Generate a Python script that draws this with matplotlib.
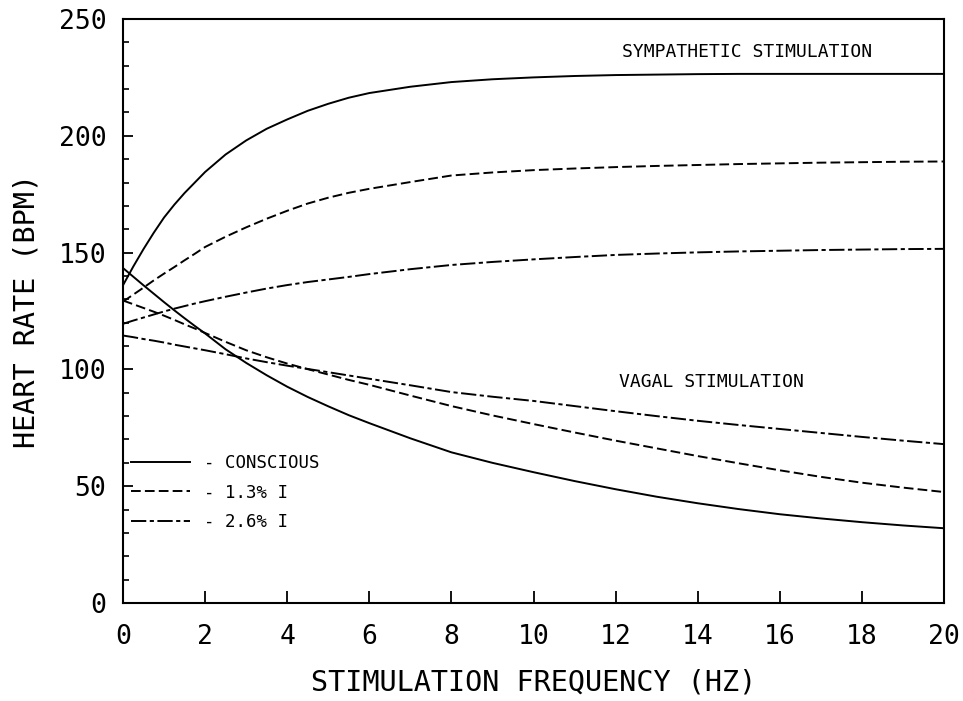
import numpy as np
import matplotlib
matplotlib.use("Agg")
import matplotlib.pyplot as plt

plt.rcParams['font.family'] = ['DejaVu Sans Mono', 'DejaVu Sans']
plt.rcParams['lines.scale_dashes'] = False

# values (Hz, beats per minute)
freq = [0, 0.25, 0.5, 0.75, 1, 1.25, 1.5, 1.75, 2, 2.5, 3, 3.5, 4, 4.5, 5, 5.5,
        6, 7, 8, 9, 10, 11, 12, 13, 14, 15, 16, 17, 18, 19, 20]

symp_conscious = [136, 144, 151.5, 158.5, 165, 170.5, 175.5, 180, 184.5, 192, 198,
                  203, 207, 210.7, 213.7, 216.3, 218.3, 221, 223, 224.2, 225,
                  225.6, 226, 226.2, 226.4, 226.5, 226.5, 226.5, 226.5, 226.5, 226.5]
symp_13 = [129, 132, 135, 138.1, 141, 143.8, 146.7, 149.5, 152.4, 156.8, 160.8,
           164.5, 167.9, 171, 173.5, 175.6, 177.3, 180.2, 183, 184.3, 185.3, 186,
           186.6, 187.1, 187.5, 187.9, 188.2, 188.5, 188.7, 188.9, 189]
symp_26 = [119.5, 120.9, 122.2, 123.5, 124.8, 126, 127.1, 128.2, 129.2, 131.1,
           132.9, 134.6, 136.1, 137.4, 138.5, 139.6, 140.8, 142.9, 144.7, 146,
           147.1, 148.1, 149, 149.6, 150.1, 150.5, 150.8, 151.1, 151.3, 151.5, 151.6]

vagal_conscious = [143.4, 139.7, 136, 132.4, 128.8, 125.3, 121.9, 118.6, 115.4,
                   108.6, 102.8, 97.5, 92.6, 88.2, 84.2, 80.4, 77, 70.5, 64.5, 60,
                   56, 52.2, 48.7, 45.5, 42.7, 40.2, 38, 36.2, 34.6, 33.2, 32]
vagal_13 = [129.5, 127.9, 126.3, 124.7, 123, 121.2, 119.3, 117.5, 115.6, 111.8,
            108.2, 105.2, 102.5, 100.1, 97.8, 95.5, 93.4, 88.8, 84.3, 80.3, 76.6,
            73, 69.5, 66.2, 62.9, 59.8, 56.8, 54, 51.5, 49.4, 47.5]
vagal_26 = [114.5, 113.8, 113, 112.3, 111.5, 110.6, 109.8, 109, 108.2, 106.5,
            104.7, 103.1, 101.6, 100.2, 98.8, 97.4, 96, 93.2, 90.3, 88.3, 86.5,
            84.3, 82.1, 80, 78, 76.2, 74.5, 72.8, 71.1, 69.5, 68]

labels = ["- CONSCIOUS", "- 1.3% I", "- 2.6% I"]
xticks = [0, 2, 4, 6, 8, 10, 12, 14, 16, 18, 20]
yticks = [0, 50, 100, 150, 200, 250]

fig = plt.figure(figsize=(9.63, 7.01), dpi=100)
ax = fig.add_axes([0.1277, 0.1398, 0.8526, 0.8331])

styles = ['-', (0, (7, 3)), (0, (11, 2.5, 3, 2.5))]
symp = [symp_conscious, symp_13, symp_26]
vagal = [vagal_conscious, vagal_13, vagal_26]
for s, v, ls, lab in zip(symp, vagal, styles, labels):
    ax.plot(freq, s, color='black', lw=1.4, linestyle=ls, label=lab)
    ax.plot(freq, v, color='black', lw=1.4, linestyle=ls)

ax.set_xlim(0, 20)
ax.set_ylim(0, 250)
ax.set_xticks(xticks)
ax.set_yticks(yticks)
ax.set_yticks(np.arange(0, 251, 10), minor=True)
ax.tick_params(axis='both', which='major', direction='in', labelsize=19, width=1.3)
ax.tick_params(axis='x', which='major', length=9, pad=15)
ax.tick_params(axis='y', which='major', length=7, pad=12)
ax.tick_params(axis='y', which='minor', direction='in', length=4, width=1.2)
for sp in ax.spines.values():
    sp.set_linewidth(1.5)

ax.set_xlabel("STIMULATION FREQUENCY (HZ)", fontsize=20.5)
ax.set_ylabel("HEART RATE (BPM)", fontsize=20.5)
ax.xaxis.set_label_coords(0.5, -0.113)
ax.yaxis.set_label_coords(-0.101, 0.5)

ax.text(15.2, 236, "SYMPATHETIC STIMULATION", fontsize=13, ha='center', va='center')
ax.text(14.34, 94.6, "VAGAL STIMULATION", fontsize=13, ha='center', va='center')

ax.legend(loc='upper left', bbox_to_anchor=(0.01, 0.255), frameon=False,
          fontsize=12.5, handlelength=3.4, handletextpad=0.8, labelspacing=0.66,
          borderpad=0, borderaxespad=0)

fig.savefig("out.png", dpi=100)
